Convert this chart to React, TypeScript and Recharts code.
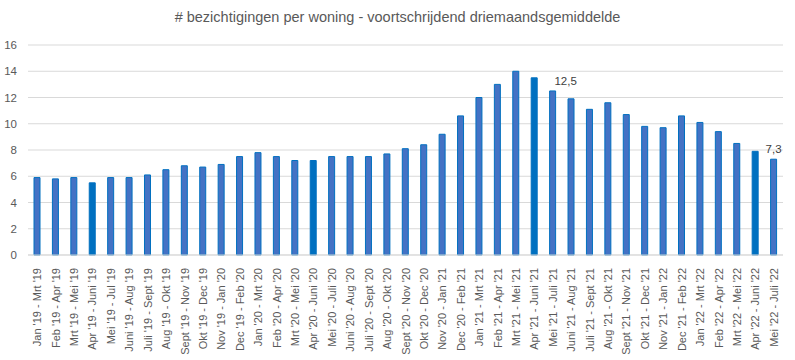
import React from 'react';
import { BarChart, Bar, XAxis, YAxis, CartesianGrid, Cell, LabelList } from 'recharts';

const periods: string[] = [
  "Jan '19 - Mrt '19", "Feb '19 - Apr '19", "Mrt '19 - Mei '19", "Apr '19 - Juni '19", "Mei '19 - Jul '19",
  "Juni '19 - Aug '19", "Juli '19 - Sept '19", "Aug '19 - Okt '19", "Sept '19 - Nov '19", "Okt '19 - Dec '19",
  "Nov '19 - Jan '20", "Dec '19 - Feb '20", "Jan '20 - Mrt '20", "Feb '20 - Apr '20", "Mrt '20 - Mei '20",
  "Apr '20 - Juni '20", "Mei '20 - Juli '20", "Juni '20 - Aug '20", "Juli '20 - Sept '20", "Aug '20 - Okt '20",
  "Sept '20 - Nov '20", "Okt '20 - Dec '20", "Nov '20 - Jan '21", "Dec '20 - Feb '21", "Jan '21 - Mrt '21",
  "Feb '21 - Apr '21", "Mrt '21 - Mei '21", "Apr '21 - Juni '21", "Mei '21 - Juli '21", "Juni '21 - Aug '21",
  "Juli '21 - Sept '21", "Aug '21 - Okt '21", "Sept '21 - Nov '21", "Okt '21 - Dec '21", "Nov '21 - Jan '22",
  "Dec '21 - Feb '22", "Jan '22 - Mrt '22", "Feb '22 - Apr '22", "Mrt '22 - Mei '22", "Apr '22 - Juni '22",
  "Mei '22 - Juli '22",
];

const viewings: number[] = [
  5.9, 5.8, 5.9, 5.5, 5.9,
  5.9, 6.1, 6.5, 6.8, 6.7,
  6.9, 7.5, 7.8, 7.5, 7.2,
  7.2, 7.5, 7.5, 7.5, 7.7,
  8.1, 8.4, 9.2, 10.6, 12.0,
  13.0, 14.0, 13.5, 12.5, 11.9,
  11.1, 11.6, 10.7, 9.8, 9.7,
  10.6, 10.1, 9.4, 8.5, 7.9,
  7.3,
];

const highlighted: string[] = ["Apr '19 - Juni '19", "Apr '20 - Juni '20", "Apr '21 - Juni '21", "Apr '22 - Juni '22"];
const labelled: string[] = ["Mei '21 - Juli '21", "Mei '22 - Juli '22"];
const yTicks: number[] = [0, 2, 4, 6, 8, 10, 12, 14, 16];

const title = '# bezichtigingen per woning - voortschrijdend driemaandsgemiddelde';

const data = periods.map((p, i) => ({ period: p, value: viewings[i] }));

const FONT = 'Liberation Sans, Arial, sans-serif';

const XTick = (props: any) => {
  const { x, y, payload } = props;
  return (
    <g transform={`translate(${x},${y + 5})`}>
      <text transform="rotate(-90)" textAnchor="end" dominantBaseline="central" fill="#595959" fontSize={11} fontFamily={FONT}>
        {payload.value}
      </text>
    </g>
  );
};

const ValueLabel = (props: any) => {
  const { x, y, width, value, index } = props;
  const p = periods[index];
  if (!labelled.includes(p)) return null;
  const dx = index === 28 ? 13 : 0;
  return (
    <text x={x + width / 2 + dx} y={y - 6} textAnchor="middle" fill="#404040" fontSize={11.5} fontFamily={FONT}>
      {String(value).replace('.', ',')}
    </text>
  );
};

export default function App() {
  return (
    <div style={{ position: 'absolute', left: 0, top: 0, width: 795, height: 360, background: '#fff' }}>
      <div style={{ position: 'absolute', left: 0, top: 9, width: 795, textAlign: 'center', fontFamily: FONT, fontSize: 14.5, color: '#595959' }}>
        {title}
      </div>
      <BarChart width={795} height={360} data={data} margin={{ top: 45, right: 12, bottom: 0, left: 0 }} barCategoryGap="0%">
        <CartesianGrid vertical={false} stroke="#d9d9d9" />
        <XAxis
          dataKey="period"
          interval={0}
          height={105}
          tick={<XTick />}
          tickLine={false}
          axisLine={{ stroke: '#d9d9d9' }}
        />
        <YAxis
          domain={[0, 16]}
          ticks={yTicks}
          width={28}
          tickLine={false}
          axisLine={false}
          tickSize={0}
          tickMargin={11}
          tick={{ fill: '#595959', fontSize: 11.5, fontFamily: FONT }}
        />
        <Bar dataKey="value" barSize={6} isAnimationActive={false} stroke="#0070C0" strokeWidth={1}>
          {data.map((d) => (
            <Cell key={d.period} fill={highlighted.includes(d.period) ? '#0070C0' : '#4472C4'} />
          ))}
          <LabelList dataKey="value" content={<ValueLabel />} />
        </Bar>
      </BarChart>
    </div>
  );
}
